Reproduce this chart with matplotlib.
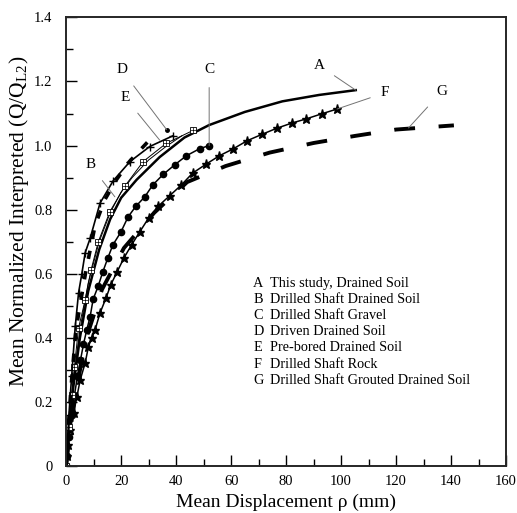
import matplotlib
matplotlib.use('Agg')
import matplotlib.pyplot as plt

plt.rcParams['font.family'] = ['Liberation Serif', 'DejaVu Serif']
plt.rcParams['mathtext.fontset'] = 'stix'
plt.rcParams['lines.scale_dashes'] = False

# curves (displacement mm, normalized load)
a_x = [0, 1, 2.5, 5, 8, 12, 16, 20, 25.6, 34, 43, 52, 65, 78.6, 92, 105.3]
a_y = [0, 0.11, 0.24, 0.40, 0.545, 0.675, 0.77, 0.837, 0.893, 0.964, 1.025, 1.064, 1.105, 1.138, 1.158, 1.173]

# thin companion line between E and A
a2_x = [0, 1, 2.5, 5, 8, 12, 16, 20, 24, 30, 36, 42]
a2_y = [0, 0.12, 0.26, 0.425, 0.57, 0.70, 0.79, 0.855, 0.9, 0.955, 0.995, 1.03]

b_x = [0, 1, 2, 3.3, 4.5, 5.7, 6.9, 8.7, 12.3, 17.1, 23.2, 30.4, 38.7]
b_y = [0, 0.16, 0.28, 0.435, 0.54, 0.6, 0.665, 0.71, 0.82, 0.89, 0.95, 0.997, 1.03]

c_x = [0, 0.3, 1, 2, 3, 4.1, 5.2, 6.3, 7.5, 8.7, 9.8, 11.6, 13.3, 15.2, 17, 19.9, 22.5,
       25.3, 28.6, 31.5, 35.3, 39.5, 43.7, 48.5, 52]
c_y = [0, 0.03, 0.09, 0.16, 0.22, 0.28, 0.33, 0.38, 0.425, 0.465, 0.52, 0.56, 0.605, 0.65,
       0.69, 0.73, 0.777, 0.81, 0.84, 0.877, 0.91, 0.94, 0.968, 0.99, 1.0]

d_x = [0, 1, 2, 3.5, 5, 7, 10.5, 14, 18, 23, 29.5, 31]
d_y = [0, 0.15, 0.27, 0.42, 0.5, 0.6, 0.75, 0.83, 0.89, 0.95, 1.01, 1.02]

e_x = [0, 1, 2, 3, 4.5, 6.9, 9, 11.7, 15.9, 21.4, 28, 36.4, 46.1]
e_y = [0, 0.12, 0.22, 0.31, 0.43, 0.518, 0.61, 0.7, 0.794, 0.874, 0.95, 1.007, 1.047]

f_x = [0, 0.25, 0.5, 1.5, 2.7, 3.9, 5.1, 6.9, 8.1, 9.3, 10.5, 12.3, 14.5, 16.2, 18.5, 21,
       23.8, 26.8, 30, 33.4, 37.6, 41.9, 46, 50.9, 55.7, 60.8, 65.8, 71.2, 76.6, 82, 87.2,
       92.9, 98.5]
f_y = [0, 0.03, 0.066, 0.112, 0.165, 0.216, 0.268, 0.321, 0.372, 0.4, 0.424, 0.477, 0.524,
       0.565, 0.605, 0.649, 0.69, 0.731, 0.774, 0.81, 0.843, 0.877, 0.914, 0.942, 0.968,
       0.99, 1.015, 1.035, 1.054, 1.07, 1.083, 1.099, 1.114]

g_x = [0, 1, 3, 7, 13, 21, 32, 44, 58, 74, 90, 105, 120, 141]
g_y = [0, 0.078, 0.205, 0.39, 0.55, 0.68, 0.79, 0.886, 0.936, 0.978, 1.008, 1.03, 1.05, 1.063]

legend_rows = [
    ('A', 'This study, Drained Soil'),
    ('B', 'Drilled Shaft Drained Soil'),
    ('C', 'Drilled Shaft Gravel'),
    ('D', 'Driven Drained Soil'),
    ('E', 'Pre-bored Drained Soil'),
    ('F', 'Drilled Shaft Rock'),
    ('G', 'Drilled Shaft Grouted Drained Soil'),
]

# (letter, text position, leader end)
labels = [
    ('A', (92, 1.25), (105.3, 1.173)),
    ('F', (116, 1.165), (98.5, 1.114)),
    ('G', (136.5, 1.168), (124.5, 1.055)),
    ('C', (52, 1.236), (52, 1.0)),
    ('D', (20.2, 1.236), (36.5, 1.05)),
    ('E', (21.4, 1.15), (34, 1.017)),
    ('B', (8.7, 0.94), (17.7, 0.84)),
]

fig = plt.figure(figsize=(5.17, 5.13), dpi=100)
ax = fig.add_axes([0.128, 0.092, 0.851, 0.874])

ax.plot(g_x, g_y, color='black', lw=2.8, dashes=(15, 17), dash_capstyle='butt')
ax.plot(f_x, f_y, color='black', lw=1.1, marker='*', ms=6.5)
ax.plot(c_x, c_y, color='black', lw=1.1, marker='o', ms=4.5)
ax.plot(a_x, a_y, color='black', lw=1.8)
ax.plot(a2_x, a2_y, color='black', lw=0.7)
ax.plot(e_x, e_y, color='black', lw=0.7, marker='s', ms=4, mfc='white', mew=0.6)
ax.plot(e_x, e_y, color='black', lw=0, marker='+', ms=4, mew=0.5)
ax.plot(b_x, b_y, color='black', lw=1.2, marker='+', ms=6, mew=1.0)
ax.plot(d_x, d_y, color='black', lw=2.6, dashes=(6, 9), dash_capstyle='butt')
ax.plot([36.5], [1.05], 'o', color='black', ms=2.5)

for letter, txt, end in labels:
    ax.annotate(letter, xy=end, xytext=txt, fontsize=11, ha='center', va='center',
                arrowprops=dict(arrowstyle='-', color='0.45', lw=0.7, shrinkA=6, shrinkB=0))

for i, (letter, desc) in enumerate(legend_rows):
    yy = 0.57 - i * 0.0505
    ax.text(68, yy, letter, fontsize=10.3, va='center')
    ax.text(74, yy, desc, fontsize=10.3, va='center')

ax.set_xlim(0, 160)
ax.set_ylim(0, 1.4)
ax.set_xticks(range(0, 161, 20))
ax.set_xticks(range(10, 160, 20), minor=True)
ax.set_yticks([0, 0.2, 0.4, 0.6, 0.8, 1.0, 1.2, 1.4])
ax.set_yticklabels(['0', '0.2', '0.4', '0.6', '0.8', '1.0', '1.2', '1.4'])
ax.set_yticks([0.1, 0.3, 0.5, 0.7, 0.9, 1.1, 1.3], minor=True)
ax.tick_params(which='both', direction='in', labelsize=10.5, width=1.0)
ax.tick_params(which='major', length=8)
ax.tick_params(which='minor', length=5)
ax.tick_params(axis='y', pad=10)
ax.tick_params(axis='x', pad=6.5)
for s in ax.spines.values():
    s.set_linewidth(1.4)
    s.set_color('0.15')

ax.set_xlabel(u'Mean Displacement \u03c1 (mm)', fontsize=14, labelpad=4)
ax.set_ylabel(r'Mean Normalized Interpreted (Q/Q$_{\mathregular{L2}}$)', fontsize=15.5)
ax.yaxis.set_label_coords(-0.08, 0.546)

fig.savefig('out.png', dpi=100)
